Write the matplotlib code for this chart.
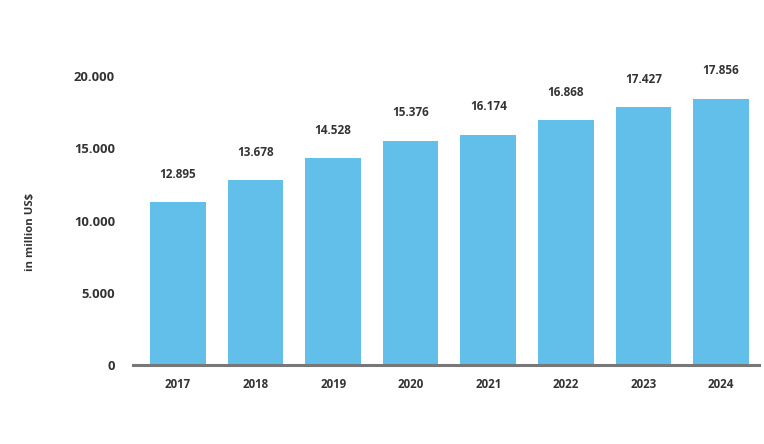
import matplotlib
matplotlib.use("Agg")
import matplotlib.pyplot as plt

years = ["2017", "2018", "2019", "2020", "2021", "2022", "2023", "2024"]
bar_values = [11260, 12780, 14300, 15500, 15920, 16930, 17850, 18410]
value_labels = ["12.895", "13.678", "14.528", "15.376", "16.174", "16.868", "17.427", "17.856"]
y_ticks = [0, 5000, 10000, 15000, 20000]
y_tick_labels = ["0", "5.000", "10.000", "15.000", "20.000"]
y_label = "in million US$"

W, H = 764, 444
fig = plt.figure(figsize=(W / 100, H / 100), dpi=100)
left, right, bottom, top = 133, 759, 365, 76
ax = fig.add_axes([left / W, 1 - bottom / H, (right - left) / W, (bottom - top) / H])

font = "Open Sans"
txt = "#333333"
x = list(range(len(years)))
bars = ax.bar(x, bar_values, width=0.717, color="#62bfea", zorder=2)

for b, lab in zip(bars, value_labels):
    ax.annotate(lab, (b.get_x() + b.get_width() / 2, b.get_height()),
                xytext=(0, 15.5), textcoords="offset points", ha="center", va="bottom",
                fontsize=8.5, fontweight="bold", color=txt, family=font, annotation_clip=False)

ax.set_xlim(-0.579, 7.49)
ax.set_ylim(0, 20000)
ax.set_xticks(x)
ax.set_xticklabels(years, fontsize=8.3, fontweight="bold", color=txt, family=font)
ax.set_yticks(y_ticks)
ax.set_yticklabels(y_tick_labels, fontsize=9.4, fontweight="bold", color=txt, family=font)
ax.tick_params(axis="both", length=0)
ax.tick_params(axis="y", pad=13)
ax.tick_params(axis="x", pad=9)

for s in ["top", "right", "left"]:
    ax.spines[s].set_visible(False)
ax.spines["bottom"].set_color("#777777")
ax.spines["bottom"].set_linewidth(2.2)
ax.spines["bottom"].set_zorder(3)

fig.text(30 / W, 1 - 232 / H, y_label, rotation=90, ha="center", va="center",
         fontsize=8.2, fontweight="bold", color=txt, family=font)

fig.savefig("out.png", dpi=100, facecolor="white")
